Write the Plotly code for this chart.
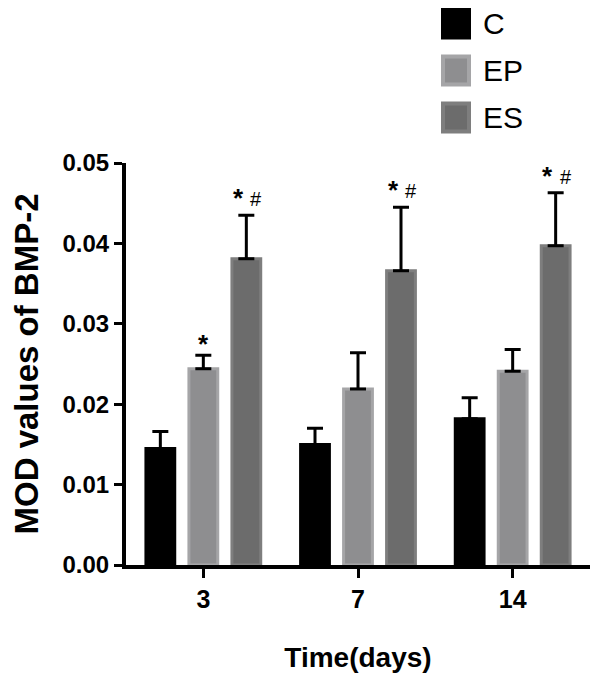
import plotly.graph_objects as go

# ---------------- data ----------------
days = ["3", "7", "14"]
groups = ["C", "EP", "ES"]
c_mean = [0.0145, 0.0150, 0.0182]
c_err = [0.0021, 0.0020, 0.0026]
ep_mean = [0.0244, 0.0219, 0.0241]
ep_err = [0.0017, 0.0045, 0.0027]
es_mean = [0.0381, 0.0366, 0.0397]
es_err = [0.0054, 0.0079, 0.0066]
ep_star = [True, False, False]
es_star = [True, True, True]
es_hash = [True, True, True]

# ---------------- style ----------------
OFF = 8  # page body margin
W, H = 600 - OFF, 684 - OFF
ML, MR, MT, MB = 118, 10, 155, 119
PW, PH = W - ML - MR, H - MT - MB
BARGAP, GROUPGAP = 0.166, 0.33
FONT = "Liberation Sans, Arial, sans-serif"
fills = ["#000000", "#8e8e90", "#6c6c6c"]
edges = ["#000000", "#a5a5a7", "#7e7e7e"]

x = list(range(len(days)))
means = [c_mean, ep_mean, es_mean]
errs = [c_err, ep_err, es_err]

fig = go.Figure()
for g, m, e, fc, ec in zip(groups, means, errs, fills, edges):
    fig.add_trace(go.Bar(
        x=x, y=m, name=g,
        marker=dict(color=fc, line=dict(color=ec, width=3)),
        error_y=dict(type="data", array=e, arrayminus=[0] * len(e),
                     symmetric=False, color="black", thickness=3, width=8),
        showlegend=False,
    ))

slot = (1 - BARGAP) / 3

def px2paper(px, py):
    return (px - OFF - ML) / PW, (H - MB - (py - OFF)) / PH

annotations = []
# significance marks
for i in range(len(days)):
    if ep_star[i]:
        annotations.append(dict(x=x[i], y=ep_mean[i] + ep_err[i], xref="x", yref="y",
                                text="<b>*</b>", showarrow=False, yanchor="bottom",
                                yshift=-6, font=dict(size=26, family=FONT, color="black")))
    if es_star[i]:
        annotations.append(dict(x=x[i] + slot, y=es_mean[i] + es_err[i], xref="x", yref="y",
                                text="<b>*</b>", showarrow=False, yanchor="bottom",
                                xshift=-8, yshift=0, font=dict(size=26, family=FONT, color="black")))
    if es_hash[i]:
        annotations.append(dict(x=x[i] + slot, y=es_mean[i] + es_err[i], xref="x", yref="y",
                                text="#", showarrow=False, yanchor="bottom",
                                xshift=10, yshift=3, font=dict(size=20, family=FONT, color="black")))

# manual legend
shapes = []
leg_rows = [23.5, 70.5, 117.5]
for g, fc, ec, cy in zip(groups, fills, edges, leg_rows):
    x0, y0 = px2paper(443, cy - 14)
    x1, y1 = px2paper(469, cy + 14)
    shapes.append(dict(type="rect", xref="paper", yref="paper", x0=x0, x1=x1, y0=y1, y1=y0,
                       fillcolor=fc, line=dict(color=ec, width=4)))
    tx, ty = px2paper(481, cy)
    annotations.append(dict(x=tx, y=ty, xref="paper", yref="paper", text=g, showarrow=False,
                            xanchor="left", yanchor="middle",
                            font=dict(size=30, family=FONT, color="black")))

fig.update_layout(
    width=W, height=H,
    margin=dict(l=ML, r=MR, t=MT, b=MB, autoexpand=False),
    paper_bgcolor="white", plot_bgcolor="white",
    barmode="group", bargap=BARGAP, bargroupgap=GROUPGAP,
    font=dict(family=FONT, color="black"),
    shapes=shapes, annotations=annotations,
)
fig.update_xaxes(
    range=[-0.5, len(days) - 0.5], tickvals=x, ticktext=days,
    showline=True, linewidth=4, linecolor="black",
    ticks="outside", ticklen=9, tickwidth=3, tickcolor="black",
    tickfont=dict(size=25, family=FONT, weight="bold"),
    showgrid=False, zeroline=False, automargin=False,
    title=dict(text="Time(days)", font=dict(size=28, family=FONT, weight="bold"), standoff=36),
)
fig.update_yaxes(
    range=[0, 0.05], dtick=0.01, tickformat=".2f",
    showline=True, linewidth=4, linecolor="black",
    ticks="outside", ticklen=8, tickwidth=3, tickcolor="black",
    tickfont=dict(size=24, family=FONT, weight="bold"),
    showgrid=False, zeroline=False, automargin=False,
    title=dict(text="MOD values of BMP-2", font=dict(size=33, family=FONT, weight="bold"), standoff=26),
)

fig.write_html("out.html")
